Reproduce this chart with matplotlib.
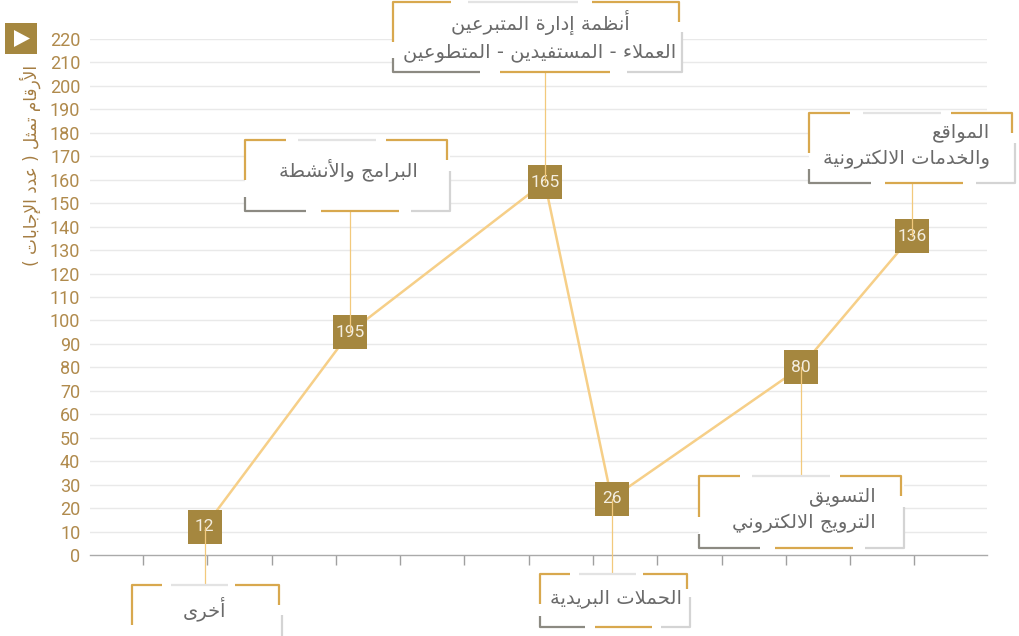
import matplotlib
matplotlib.use("Agg")
import matplotlib.pyplot as plt
import matplotlib.transforms as mtransforms
from matplotlib.patches import Rectangle, Polygon

# ---- data ----
categories = [
    "أخرى",
    "البرامج والأنشطة",
    "أنظمة إدارة المتبرعين\nالعملاء - المستفيدين - المتطوعين",
    "الحملات البريدية",
    "التسويق\nالترويج الالكتروني",
    "المواقع\nوالخدمات الالكترونية",
]
x_pos = [0.96, 3.22, 6.25, 7.29, 10.23, 11.96]
plotted = [12, 95, 159, 24, 80, 136]     # where the marker sits on the chart
shown = [12, 195, 165, 26, 80, 136]      # number printed in the marker
y_ticks = list(range(0, 221, 10))
y_title = "الأرقام تمثل ( عدد الإجابات )"

# label frames in pixels: left, top, width, height, text x, text y, align
frames = [
    (132, 585, 150, 70, 205, 609, "center"),
    (245, 140, 205, 71, 348, 170, "center"),
    (393, 2, 289, 70, 540, 36, "center"),
    (540, 574, 150, 53, 616, 598, "center"),
    (699, 476, 205, 72, 876, 510, "right"),
    (809, 113, 206, 70, 990, 146, "right"),
]

GOLD = "#a5873f"
LINE = "#f6cf88"
FRAME_GOLD = "#d8a84e"
TICK_COL = "#b08a4c"
TEXT_COL = "#6a6a6a"

# ---- minimal arabic shaping (matplotlib has no bidi/joining) ----
FORMS = {}
for ch, base in [("ء", 0xFE80)]:
    FORMS[ch] = (base, 1)
for ch, base in [("آ", 0xFE81), ("أ", 0xFE83), ("ؤ", 0xFE85), ("إ", 0xFE87),
                 ("ا", 0xFE8D), ("ة", 0xFE93), ("د", 0xFEA9), ("ذ", 0xFEAB),
                 ("ر", 0xFEAD), ("ز", 0xFEAF), ("و", 0xFEED), ("ى", 0xFEEF)]:
    FORMS[ch] = (base, 2)
for ch, base in [("ئ", 0xFE89), ("ب", 0xFE8F), ("ت", 0xFE95), ("ث", 0xFE99),
                 ("ج", 0xFE9D), ("ح", 0xFEA1), ("خ", 0xFEA5), ("س", 0xFEB1),
                 ("ش", 0xFEB5), ("ص", 0xFEB9), ("ض", 0xFEBD), ("ط", 0xFEC1),
                 ("ظ", 0xFEC5), ("ع", 0xFEC9), ("غ", 0xFECD), ("ف", 0xFED1),
                 ("ق", 0xFED5), ("ك", 0xFED9), ("ل", 0xFEDD), ("م", 0xFEE1),
                 ("ن", 0xFEE5), ("ه", 0xFEE9), ("ي", 0xFEF1)]:
    FORMS[ch] = (base, 4)
LAM_ALEF = {"آ": 0xFEF5, "أ": 0xFEF7, "إ": 0xFEF9, "ا": 0xFEFB}


def shape_line(text):
    out = []
    i, n = 0, len(text)
    prev_joins = False
    while i < n:
        c = text[i]
        if c not in FORMS:
            out.append(c)
            prev_joins = False
            i += 1
            continue
        base, nf = FORMS[c]
        if c == "ل" and i + 1 < n and text[i + 1] in LAM_ALEF:
            out.append(chr(LAM_ALEF[text[i + 1]] + (1 if prev_joins else 0)))
            prev_joins = False
            i += 2
            continue
        nxt = text[i + 1] if i + 1 < n else None
        joins_next = nf == 4 and nxt in FORMS and nxt != "ء"
        if nf == 1:
            form = 0
        elif prev_joins and joins_next:
            form = 3
        elif prev_joins:
            form = 1
        elif joins_next:
            form = 2
        else:
            form = 0
        out.append(chr(base + form))
        prev_joins = joins_next
        i += 1
    s = "".join(out)[::-1]
    return s.translate(str.maketrans("()", ")("))


def ar(text):
    return "\n".join(shape_line(t) for t in text.split("\n"))


plt.rcParams["font.family"] = ["DejaVu Sans"]

W, H = 1020, 636
fig = plt.figure(figsize=(W / 100, H / 100), dpi=100)
fig.patch.set_facecolor("white")
px = mtransforms.Affine2D().scale(1 / W, -1 / H).translate(0, 1) + fig.transFigure

ax = fig.add_axes([90 / W, 1 - 555 / H, (987 - 90) / W, (555 - 39) / H])
ax.set_xlim(-0.824, 13.13)
ax.set_ylim(0, 220)
ax.set_yticks(y_ticks)
ax.set_yticklabels([str(v) for v in y_ticks], family="Roboto", fontsize=13,
                   color=TICK_COL)
ax.set_xticks(range(0, 13))
ax.set_xticklabels([])
ax.tick_params(axis="y", length=0, pad=7)
ax.tick_params(axis="x", direction="out", length=7, width=1, color="#a0a0a0")
for s in ["top", "right", "left"]:
    ax.spines[s].set_visible(False)
ax.spines["bottom"].set_color("#aaaaaa")
ax.spines["bottom"].set_linewidth(1)
for v in y_ticks[1:]:
    ax.axhline(v, color="#e9e9e9", lw=1, zorder=0)

ax.set_ylabel(ar(y_title), color="#a57d42", fontsize=12.2)
ax.yaxis.set_label_coords(-49 / 897, 0.754)

# line + value markers
ax.plot(x_pos, plotted, color=LINE, lw=1.8, zorder=3, clip_on=False)
ax.scatter(x_pos, plotted, marker="s", s=620, color=GOLD, zorder=5,
           clip_on=False, linewidths=0)
for x, y, lab in zip(x_pos, plotted, shown):
    ax.text(x, y, str(lab), ha="center", va="center", color="#f4eee0",
            fontsize=12.5, family="Roboto", zorder=6)


def seg(pts, color):
    xs, ys = zip(*pts)
    fig.add_artist(plt.Line2D(xs, ys, transform=px, color=color, lw=1.6,
                              solid_capstyle="butt", zorder=4))


for (L, T, w, h, tx, ty, al), x, y, name in zip(frames, x_pos, plotted, categories):
    R, B = L + w, T + h
    # connector from marker to frame
    cx, cy = px.inverted().transform(ax.transData.transform((x, y)))
    edge = B if T < cy else T
    fig.add_artist(plt.Line2D([cx, cx], [cy, edge], transform=px,
                              color="#f2c97c", lw=0.9, zorder=2))
    fig.add_artist(Rectangle((L, T), w, h, transform=px, facecolor="white",
                             edgecolor="none", zorder=3))
    seg([(L, T + 0.57 * h), (L, T), (L + 0.2 * w, T)], FRAME_GOLD)
    seg([(L + 0.26 * w, T), (L + 0.64 * w, T)], "#e3e3e3")
    seg([(L + 0.69 * w, T), (R - 3, T), (R - 3, T + 0.28 * h)], FRAME_GOLD)
    seg([(R, T + 0.43 * h), (R, B), (R - 0.19 * w, B)], "#d4d4d4")
    seg([(L, B - 0.2 * h), (L, B), (L + 0.3 * w, B)], "#8c8a82")
    seg([(L + 0.37 * w, B), (L + 0.75 * w, B)], FRAME_GOLD)
    fig.text(tx / W, 1 - ty / H, ar(name), ha=al, va="center", multialignment=al,
             color=TEXT_COL, fontsize=14, linespacing=1.45, zorder=5)

# small play icon top-left
fig.add_artist(Rectangle((5, 23), 32, 31, transform=px, facecolor=GOLD,
                         edgecolor="none"))
fig.add_artist(Polygon([(14, 30), (14, 47), (30, 38.5)], closed=True,
                       transform=px, facecolor="white", edgecolor="none"))

fig.savefig("out.png", dpi=100)
